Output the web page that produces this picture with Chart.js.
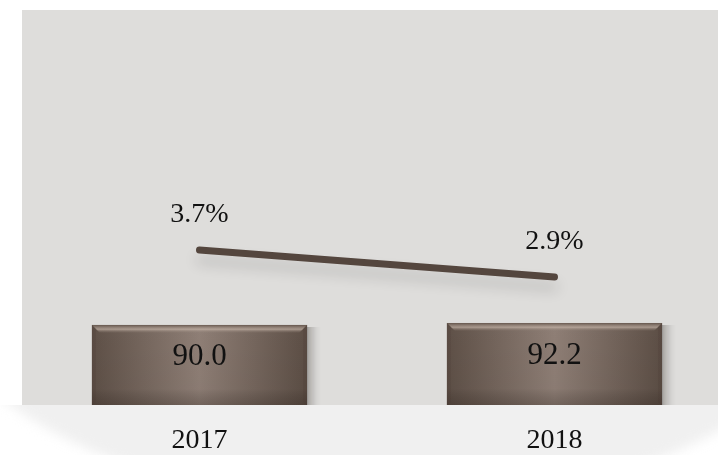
<!DOCTYPE html>
<html>
<head>
<meta charset="utf-8">
<script src="https://cdn.jsdelivr.net/npm/chart.js@4/dist/chart.umd.min.js"></script>
<style>
html,body{margin:0;padding:0;background:#fff;overflow:hidden;}
#wrap{width:718px;height:455px;overflow:hidden;}
canvas{display:block;}
</style>
</head>
<body>
<div id="wrap"><canvas id="c" width="732" height="455"></canvas></div>
<script>
const categories = ['2017', '2018'];
const barValues = [90.0, 92.2];
const growthValues = [3.7, 2.9];
const barLabels = ['90.0', '92.2'];
const growthLabels = ['3.7%', '2.9%'];

const FONT = '"Liberation Serif", "DejaVu Serif", serif';

const bgPlugin = {
  id: 'bg',
  beforeDraw(chart) {
    const {ctx, chartArea: a, width, height} = chart;
    ctx.save();
    ctx.fillStyle = '#ffffff';
    ctx.fillRect(0, 0, width, height);
    ctx.save();
    ctx.beginPath();
    ctx.rect(0, a.bottom, width, height - a.bottom);
    ctx.clip();
    ctx.filter = 'blur(6px)';
    ctx.fillStyle = '#f0f0f0';
    ctx.beginPath();
    ctx.ellipse(385, 280, 450, 225, 0, 0, Math.PI * 2);
    ctx.fill();
    ctx.restore();
    ctx.fillStyle = '#dedddb';
    ctx.fillRect(a.left, a.top, width - a.left, a.bottom - a.top);
    ctx.restore();
  },
  beforeDatasetDraw(chart, args) {
    const ctx = chart.ctx;
    if (args.index === 0) {
      const meta = chart.getDatasetMeta(0);
      ctx.save();
      meta.data.forEach(el => {
        const l = el.x - el.width / 2, t = el.y, h = el.base - el.y;
        for (let i = 1; i <= 14; i++) {
          ctx.fillStyle = 'rgba(60,50,45,' + (0.05 * (1 - i / 15)) + ')';
          ctx.fillRect(l + i, t + 2, el.width, h - 2);
        }
      });
      ctx.restore();
    } else if (args.index === 1) {
      ctx.save();
      ctx.shadowColor = 'rgba(0,0,0,0.16)';
      ctx.shadowBlur = 14;
      ctx.shadowOffsetY = 10;
    }
  },
  afterDatasetDraw(chart, args) {
    const ctx = chart.ctx;
    if (args.index === 1) { ctx.restore(); return; }
    if (args.index !== 0) return;
    const meta = chart.getDatasetMeta(0);
    ctx.save();
    meta.data.forEach(el => {
      const l = el.x - el.width / 2, r = el.x + el.width / 2, t = el.y, b = el.base, w = el.width;
      const g = ctx.createLinearGradient(l, 0, r, 0);
      g.addColorStop(0, '#5e5047');
      g.addColorStop(0.5, '#8f7f76');
      g.addColorStop(1, '#5c4e45');
      ctx.fillStyle = g;
      ctx.fillRect(l, t, w, b - t);
      const gv = ctx.createLinearGradient(0, t, 0, b);
      gv.addColorStop(0, 'rgba(0,0,0,0)');
      gv.addColorStop(0.8, 'rgba(0,0,0,0.03)');
      gv.addColorStop(1, 'rgba(30,20,15,0.25)');
      ctx.fillStyle = gv;
      ctx.fillRect(l, t, w, b - t);
      const bev = 8;
      const gt = ctx.createLinearGradient(0, t, 0, t + bev);
      gt.addColorStop(0, 'rgba(100,85,76,0.9)');
      gt.addColorStop(0.55, 'rgba(195,178,166,0.7)');
      gt.addColorStop(1, 'rgba(150,135,125,0.0)');
      ctx.fillStyle = gt;
      ctx.beginPath();
      ctx.moveTo(l, t); ctx.lineTo(r, t); ctx.lineTo(r - bev, t + bev); ctx.lineTo(l + bev, t + bev); ctx.closePath();
      ctx.fill();
      ctx.fillStyle = 'rgba(70,58,50,0.18)';
      ctx.beginPath();
      ctx.moveTo(l, t); ctx.lineTo(l + 4, t + 4); ctx.lineTo(l + 4, b - 3); ctx.lineTo(l, b); ctx.closePath();
      ctx.fill();
      ctx.beginPath();
      ctx.moveTo(r, t); ctx.lineTo(r - 4, t + 4); ctx.lineTo(r - 4, b - 3); ctx.lineTo(r, b); ctx.closePath();
      ctx.fill();
    });
    ctx.restore();
  },
  afterDatasetsDraw(chart) {
    const ctx = chart.ctx;
    ctx.save();
    ctx.fillStyle = '#111111';
    ctx.textAlign = 'center';
    ctx.textBaseline = 'middle';
    const m0 = chart.getDatasetMeta(0);
    ctx.font = '31px ' + FONT;
    m0.data.forEach((el, i) => {
      ctx.fillText(barLabels[i], el.x, (el.y + el.base) / 2 - 8);
    });
    const m1 = chart.getDatasetMeta(1);
    ctx.font = '28px ' + FONT;
    m1.data.forEach((el, i) => {
      ctx.fillText(growthLabels[i], el.x, el.y - 35);
    });
    ctx.restore();
  }
};

new Chart(document.getElementById('c'), {
  data: {
    labels: categories,
    datasets: [
      {
        type: 'bar',
        data: barValues,
        backgroundColor: '#75675e',
        borderWidth: 0,
        yAxisID: 'y',
        categoryPercentage: 1,
        barPercentage: 0.606,
        order: 2
      },
      {
        type: 'line',
        data: growthValues,
        borderColor: '#54463e',
        borderWidth: 7,
        borderCapStyle: 'round',
        pointRadius: 0,
        tension: 0,
        fill: false,
        yAxisID: 'y1',
        order: 1
      }
    ]
  },
  options: {
    responsive: false,
    animation: false,
    layout: {padding: {left: 22, top: 10, right: 0, bottom: 0}},
    plugins: {legend: {display: false}, tooltip: {enabled: false}},
    scales: {
      x: {
        grid: {display: false, tickLength: 22},
        border: {display: false},
        ticks: {color: '#111111', font: {family: FONT, size: 28, lineHeight: 1}, padding: 0, maxRotation: 0}
      },
      y: {display: false, min: 0, max: 444},
      y1: {display: false, min: -0.89, max: 10.81}
    }
  },
  plugins: [bgPlugin]
});
</script>
</body>
</html>
